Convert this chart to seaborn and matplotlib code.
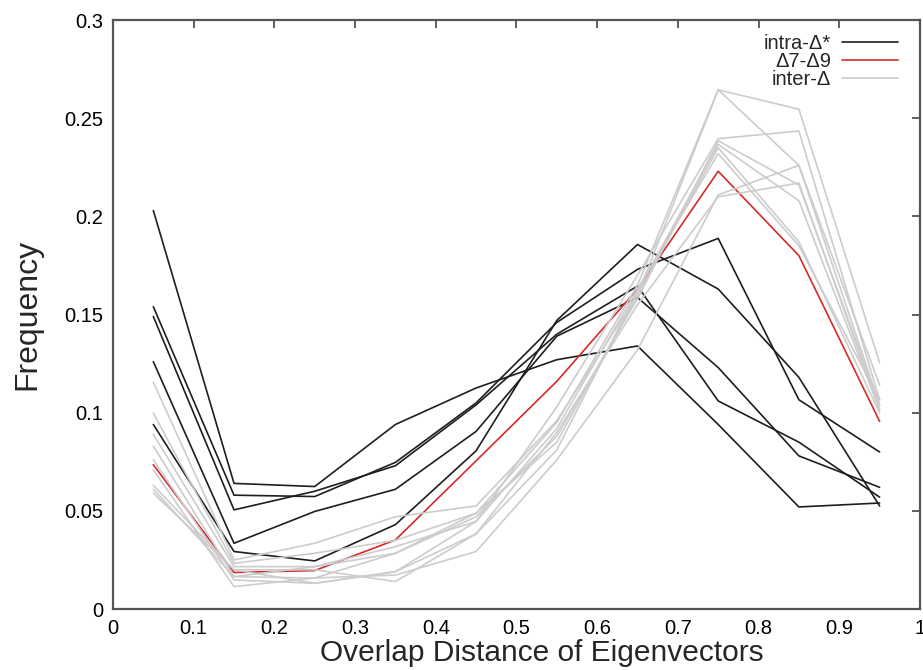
import matplotlib.pyplot as plt
from matplotlib.lines import Line2D
import seaborn as sns
import numpy as np
import pandas as pd


# bin centres of the overlap distance histogram
bins = [0.05, 0.15, 0.25, 0.35, 0.45, 0.55, 0.65, 0.75, 0.85, 0.95]

# intra-Delta* runs (black)
intra = [
    [0.203, 0.064, 0.0624, 0.094, 0.1126, 0.127, 0.134, 0.094, 0.052, 0.054],
    [0.154, 0.058, 0.0573, 0.0747, 0.105, 0.146, 0.173, 0.1888, 0.1066, 0.080],
    [0.149, 0.0505, 0.060, 0.073, 0.104, 0.140, 0.1645, 0.106, 0.085, 0.057],
    [0.126, 0.0335, 0.0497, 0.061, 0.0905, 0.139, 0.1587, 0.123, 0.078, 0.062],
    [0.094, 0.0293, 0.0245, 0.043, 0.0806, 0.147, 0.1857, 0.163, 0.118, 0.0525],
]

# Delta7-Delta9 (red)
d7_d9 = [0.0735, 0.0186, 0.0196, 0.0352, 0.0755, 0.116, 0.163, 0.223, 0.180, 0.0956]

# inter-Delta runs (grey)
inter = [
    [0.1155, 0.025, 0.0335, 0.047, 0.0525, 0.096, 0.160, 0.2645, 0.2546, 0.1255],
    [0.0998, 0.0233, 0.0284, 0.035, 0.0488, 0.095, 0.165, 0.2645, 0.226, 0.114],
    [0.089, 0.0216, 0.0216, 0.0318, 0.0446, 0.103, 0.170, 0.2396, 0.2435, 0.1066],
    [0.083, 0.0165, 0.0158, 0.0284, 0.047, 0.088, 0.158, 0.2385, 0.216, 0.104],
    [0.076, 0.0148, 0.0131, 0.019, 0.0383, 0.081, 0.162, 0.2367, 0.208, 0.1015],
    [0.071, 0.0114, 0.0158, 0.0173, 0.0293, 0.076, 0.132, 0.211, 0.226, 0.104],
    [0.063, 0.020, 0.020, 0.014, 0.0383, 0.090, 0.155, 0.210, 0.217, 0.1015],
    [0.061, 0.0165, 0.0216, 0.0284, 0.0488, 0.085, 0.160, 0.235, 0.187, 0.100],
    [0.059, 0.020, 0.0131, 0.019, 0.0446, 0.092, 0.163, 0.232, 0.185, 0.1066],
]

labels = ['intra-\u0394*', '\u03947-\u03949', 'inter-\u0394']
colors = ['#1e1e1e', '#d42a2a', '#cccccc']


def to_frame(runs):
    rows = []
    for i, run in enumerate(runs):
        for x, y in zip(bins, run):
            rows.append((i, x, y))
    return pd.DataFrame(rows, columns=['run', 'x', 'freq'])


sns.set_theme(style='white')
plt.rcParams['font.family'] = ['Liberation Sans Narrow', 'Liberation Sans', 'DejaVu Sans']

fig = plt.figure(figsize=(9.23, 6.70), dpi=100)
ax = fig.add_axes([0.1224, 0.091, 0.8743, 0.879])

groups = [intra, [d7_d9], inter]
for runs, col in zip(groups, colors):
    sns.lineplot(data=to_frame(runs), x='x', y='freq', units='run', estimator=None,
                 color=col, linewidth=1.2, ax=ax, legend=False)

ax.set_xlim(0, 1)
ax.set_ylim(0, 0.3)
xt = np.round(np.arange(0, 1.01, 0.1), 1)
yt = np.round(np.arange(0, 0.301, 0.05), 2)
ax.set_xticks(xt)
ax.set_xticklabels(['0' if v == 0 else ('1' if v == 1 else f'{v:g}') for v in xt])
ax.set_yticks(yt)
ax.set_yticklabels(['0' if v == 0 else f'{v:g}' for v in yt])
ax.tick_params(direction='in', length=6, width=1.2, color='#444444',
               top=True, right=True, labelsize=14.5, pad=7, labelcolor='black')

for sp in ax.spines.values():
    sp.set_color('#555555')
    sp.set_linewidth(1.6)

ax.set_xlabel('Overlap Distance of Eigenvectors', fontsize=21.5)
ax.xaxis.set_label_coords(0.532, -0.051)
ax.set_ylabel('Frequency', fontsize=23, labelpad=16)

handles = [Line2D([0], [0], color=c, linewidth=1.2) for c in colors]
ax.legend(handles, labels, loc='upper right', frameon=False, markerfirst=False,
          fontsize=14.5, handlelength=2.75, handletextpad=0.55, labelspacing=-0.05,
          borderaxespad=0.3, bbox_to_anchor=(0.99, 1.0))

fig.savefig('out.png', dpi=100)
